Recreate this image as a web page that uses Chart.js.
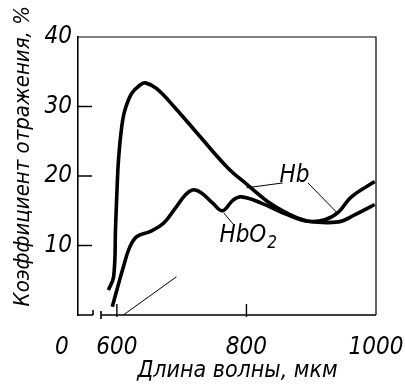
<!DOCTYPE html>
<html>
<head>
<meta charset="utf-8">
<script src="https://cdn.jsdelivr.net/npm/chart.js@4/dist/chart.umd.min.js"></script>
<style>
  html, body { margin: 0; padding: 0; background: #fff; }
  #wrap { width: 405px; height: 385px; }
</style>
</head>
<body>
<div id="wrap"><canvas id="reflChart"></canvas></div>
<script>
// datos: longitud de onda (nm) y coeficiente de reflexión (%)
const hbWavelength = [587, 595, 598, 600, 602.5, 607.5, 612.5, 623, 636, 644, 661, 689, 730, 771, 802, 833, 864, 895, 921, 942, 962, 998];
const hbReflectance = [3.6, 5.5, 12.7, 17.5, 22.3, 27.1, 29.5, 31.9, 33.1, 33.4, 32.6, 29.9, 25.5, 21.2, 18.7, 16.3, 14.6, 13.5, 13.7, 14.8, 17, 19.2];

const hbo2Wavelength = [593, 600, 610, 620, 631, 651, 672, 692, 705, 717, 730, 748, 763, 779, 792, 823, 864, 895, 942, 967, 998];
const hbo2Reflectance = [1.2, 3.6, 6.9, 9.8, 11.3, 12.0, 13.2, 15.6, 17.2, 18.0, 17.6, 16.1, 15.0, 16.5, 17.0, 16.1, 14.4, 13.5, 13.4, 14.4, 15.9];

// línea fina sin rótulo cerca del origen
const thinWavelength = [610, 692];
const thinReflectance = [0, 5.5];

const xTickValues = [540, 600, 800, 1000];
const xTickLabels = ["0\u2002\u2002\u2002", "600", "800", "1000"];
const yTickValues = [0, 10, 20, 30, 40];
const yTickLabels = ["", "10", "20", "30", "40"];

// rótulos de las curvas con sus líneas de referencia (en unidades de datos)
const curveLabels = [
  { text: "Hb", sub: "", x: 874, y: 20.0, leaders: [[[800, 18.3], [856, 19.0]], [[895, 19.0], [939, 14.8]]] },
  { text: "HbO", sub: "2", x: 802, y: 11.4, leaders: [[[765, 14.7], [781, 12.9]]] },
];

const FONT = "'DejaVu Sans Condensed', 'Liberation Sans', sans-serif";

function toPoints(xs, ys) {
  return xs.map((x, i) => ({ x: x, y: ys[i] }));
}

// dibujamos el marco, las marcas interiores, el corte del eje y los rótulos
const decorations = {
  id: "decorations",
  afterDraw(chart) {
    const ctx = chart.ctx;
    const area = chart.chartArea;
    const xs = chart.scales.x;
    const ys = chart.scales.y;
    ctx.save();
    ctx.strokeStyle = "#000";
    ctx.lineCap = "butt";

    // marco superior y derecho
    ctx.lineWidth = 1.2;
    ctx.beginPath();
    ctx.moveTo(area.left, area.top);
    ctx.lineTo(area.right, area.top);
    ctx.lineTo(area.right, area.bottom);
    ctx.stroke();

    // eje inferior con corte
    ctx.lineWidth = 1.6;
    const b = area.bottom;
    const gapA = area.left + 15;
    const gapB = area.left + 23;
    ctx.beginPath();
    ctx.moveTo(area.left, b);
    ctx.lineTo(gapA, b);
    ctx.moveTo(gapA, b - 5);
    ctx.lineTo(gapA, b);
    ctx.moveTo(gapB, b - 4);
    ctx.lineTo(gapB, b + 4);
    ctx.moveTo(gapB, b);
    ctx.lineTo(area.right, b);
    ctx.stroke();

    // marcas hacia dentro
    ctx.lineWidth = 1.4;
    ctx.beginPath();
    yTickValues.slice(1, -1).forEach((v) => {
      const py = ys.getPixelForValue(v);
      ctx.moveTo(area.left, py);
      ctx.lineTo(area.left + 14, py);
    });
    xTickValues.slice(1, -1).forEach((v) => {
      const px = xs.getPixelForValue(v);
      ctx.moveTo(px, b + 2);
      ctx.lineTo(px, b - 11);
    });
    ctx.stroke();

    // rótulos de curvas
    ctx.lineWidth = 1;
    curveLabels.forEach((lab) => {
      ctx.beginPath();
      lab.leaders.forEach((seg) => {
        ctx.moveTo(xs.getPixelForValue(seg[0][0]), ys.getPixelForValue(seg[0][1]));
        ctx.lineTo(xs.getPixelForValue(seg[1][0]), ys.getPixelForValue(seg[1][1]));
      });
      ctx.stroke();
      const px = xs.getPixelForValue(lab.x);
      const py = ys.getPixelForValue(lab.y);
      ctx.fillStyle = "#000";
      ctx.font = "italic 24px " + FONT;
      ctx.textBaseline = "middle";
      const w = ctx.measureText(lab.text).width;
      let sw = 0;
      if (lab.sub) {
        ctx.font = "italic 17px " + FONT;
        sw = ctx.measureText(lab.sub).width;
      }
      const x0 = px - (w + sw) / 2;
      ctx.font = "italic 24px " + FONT;
      ctx.textAlign = "left";
      ctx.fillText(lab.text, x0, py);
      if (lab.sub) {
        ctx.font = "italic 17px " + FONT;
        ctx.fillText(lab.sub, x0 + w + 1, py + 8);
      }
    });
    ctx.restore();
  },
};

const ctx = document.getElementById("reflChart").getContext("2d");
new Chart(ctx, {
  type: "line",
  data: {
    datasets: [
      {
        label: "Hb",
        data: toPoints(hbWavelength, hbReflectance),
        borderColor: "#000",
        borderWidth: 3.6,
        pointRadius: 0,
        tension: 0.4,
        fill: false,
      },
      {
        label: "HbO2",
        data: toPoints(hbo2Wavelength, hbo2Reflectance),
        borderColor: "#000",
        borderWidth: 3.6,
        pointRadius: 0,
        tension: 0.4,
        fill: false,
      },
      {
        label: "",
        data: toPoints(thinWavelength, thinReflectance),
        borderColor: "#000",
        borderWidth: 1,
        pointRadius: 0,
        tension: 0,
        fill: false,
      },
    ],
  },
  options: {
    responsive: true,
    maintainAspectRatio: false,
    animation: false,
    layout: { padding: { top: 37, right: 29, left: 0, bottom: 0 } },
    plugins: {
      legend: { display: false },
      tooltip: { enabled: false },
    },
    scales: {
      x: {
        type: "linear",
        min: 540,
        max: 1000,
        afterBuildTicks: (scale) => {
          scale.ticks = xTickValues.map((v) => ({ value: v }));
        },
        afterFit: (scale) => {
          scale.height = 70;
          scale.paddingLeft = 0;
          scale.paddingRight = 0;
        },
        grid: { display: false, drawTicks: false },
        border: { display: false },
        ticks: {
          color: "#000",
          padding: 18,
          maxRotation: 0,
          autoSkip: false,
          font: { family: FONT, size: 24, style: "italic" },
          callback: (value) => xTickLabels[xTickValues.indexOf(value)],
        },
        title: {
          display: true,
          text: "\u2003Длина волны, мкм",
          color: "#000",
          padding: 0,
          font: { family: FONT, size: 23, style: "italic" },
        },
      },
      y: {
        min: 0,
        max: 40,
        afterBuildTicks: (scale) => {
          scale.ticks = yTickValues.map((v) => ({ value: v }));
        },
        afterFit: (scale) => {
          scale.width = 78;
          scale.paddingTop = 0;
          scale.paddingBottom = 0;
        },
        grid: { drawOnChartArea: false, drawTicks: false },
        border: { display: true, color: "#000", width: 1.6 },
        ticks: {
          color: "#000",
          padding: 6,
          font: { family: FONT, size: 24, style: "italic" },
          callback: (value) => yTickLabels[yTickValues.indexOf(value)],
        },
        title: {
          display: true,
          text: "\u2003\u2003Коэффициент отражения, %",
          color: "#000",
          padding: { top: 10, bottom: 0 },
          font: { family: FONT, size: 22, style: "italic" },
        },
      },
    },
  },
  plugins: [decorations],
});
</script>
</body>
</html>
